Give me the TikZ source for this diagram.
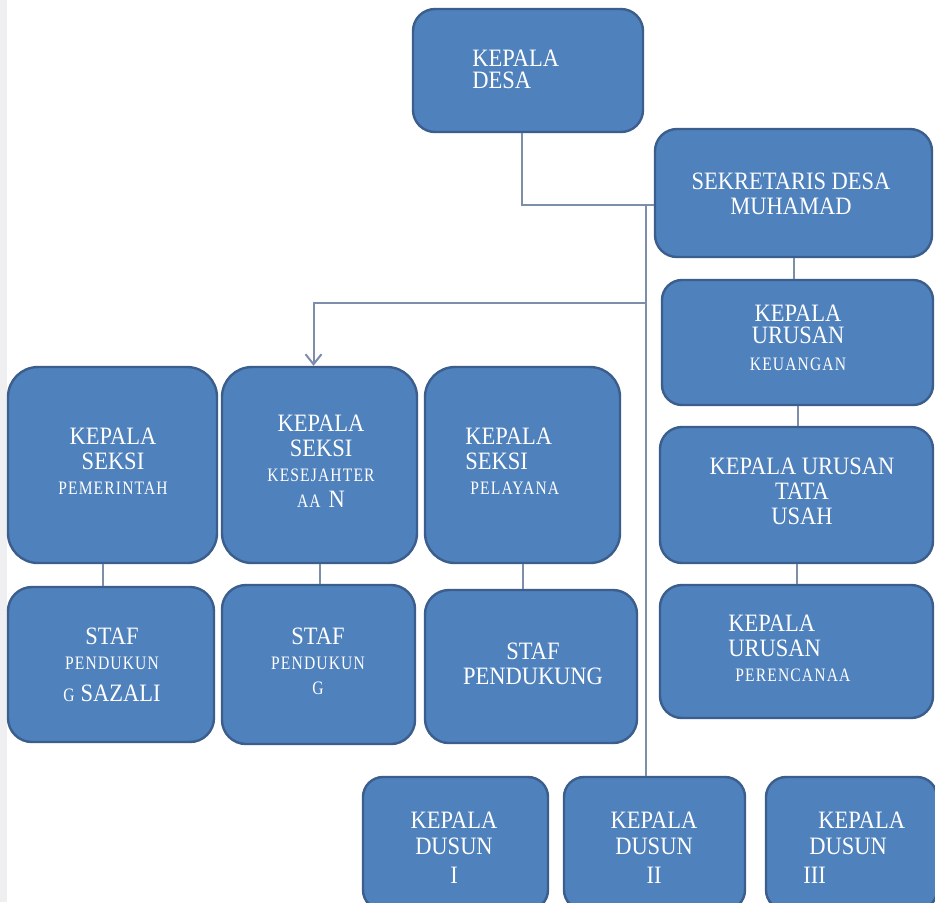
\documentclass[tikz,border=0pt]{standalone}
\usepackage{fontspec}
\setmainfont{Liberation Serif}[FakeStretch=0.9]
\newfontfamily\condfam{Liberation Serif}[FakeStretch=0.82,LetterSpace=6]
\newcommand{\cond}[1]{{\condfam\fontsize{9.5}{12.5}\selectfont #1}}
\usetikzlibrary{arrows.meta, fit}
\definecolor{boxfill}{HTML}{4F81BD}
\definecolor{boxline}{HTML}{3B5E8C}
\definecolor{connline}{HTML}{7D8EA8}
\definecolor{sidebar}{HTML}{EFEFF2}

\begin{document}
\begin{tikzpicture}[x=0.5pt, y=-0.5pt,
    box/.style={draw=boxline, fill=boxfill, line width=1.2pt, inner sep=0pt, rounded corners=11pt}, % blue rounded box
    txt/.style={text=white, inner sep=0pt, align=center, font=\fontsize{12.5}{12.5}\selectfont}, % white label
    conn/.style={draw=connline, line width=1pt} % connector lines
  ]
  \clip (0,0) rectangle (935,902);
  \fill[white] (0,0) rectangle (935,902);
  \fill[sidebar] (0,0) rectangle (7,902);

  % top: kepala desa and sekretaris
  \node[box, fit={(413,9) (643,132)}] (kd) {};
  \node[box, fit={(655,129) (932,257)}] (sd) {};
  % urusan column
  \node[box, rounded corners=10pt, fit={(662,280) (933,405)}] (keu) {};
  \node[box, fit={(660,427) (933,563)}] (tu) {};
  \node[box, fit={(660,585) (933,718)}] (pr) {};
  % seksi row
  \node[box, rounded corners=15pt, fit={(8,367) (217,563)}] (ks1) {};
  \node[box, rounded corners=15pt, fit={(222,367) (417,563)}] (ks2) {};
  \node[box, rounded corners=15pt, fit={(425,367) (620,563)}] (ks3) {};
  % staf row
  \node[box, rounded corners=12pt, fit={(8,587) (214,742)}] (st1) {};
  \node[box, rounded corners=12pt, fit={(222,585) (415,744)}] (st2) {};
  \node[box, rounded corners=12pt, fit={(425,590) (637,743)}] (st3) {};
  % dusun row
  \node[box, rounded corners=10pt, fit={(363,777) (548,910)}] (kds1) {};
  \node[box, rounded corners=10pt, fit={(564,777) (745,910)}] (kds2) {};
  \node[box, rounded corners=10pt, fit={(766,777) (937,910)}] (kds3) {};

  % labels
  \node[txt, align=left, anchor=north west] (kdt) at (472,50) {KEPALA\\[-1.5pt]DESA};
  \node[txt, anchor=north] (sdt) at (791,173) {SEKRETARIS DESA\\MUHAMAD};
  \node[txt, anchor=north] (keut) at (798,305) {KEPALA\\[-1.5pt]URUSAN\\[1pt]\cond{KEUANGAN}};
  \node[txt, anchor=north] (tut) at (802,458) {KEPALA URUSAN\\TATA\\USAH};
  \node[txt, align=left, anchor=north west] (prt) at (728,615) {KEPALA\\URUSAN\\\hspace*{3.5pt}\cond{PERENCANAA}};
  \node[txt, anchor=north] (ks1t) at (113,428) {KEPALA\\SEKSI\\\cond{PEMERINTAH}};
  \node[txt, anchor=north] (ks2t) at (321,415) {KEPALA\\SEKSI\\\cond{KESEJAHTER}\\[0.5pt]\cond{AA}\hspace{4pt}N};
  \node[txt, align=left, anchor=north west] (ks3t) at (465,428) {KEPALA\\SEKSI\\\hspace*{2.5pt}\cond{PELAYANA}};
  \node[txt, anchor=north] (st1t) at (112,628) {STAF\\\cond{PENDUKUN}\\[3.5pt]\cond{G}\hspace{3pt}SAZALI};
  \node[txt, anchor=north] (st2t) at (318,628) {STAF\\\cond{PENDUKUN}\\\cond{G}};
  \node[txt, anchor=north] (st3t) at (533,643) {STAF\\PENDUKUNG};
  \node[txt, anchor=north] (kds1t) at (454,812) {KEPALA\\[0.5pt]DUSUN\\[2pt]I};
  \node[txt, anchor=north] (kds2t) at (654,812) {KEPALA\\[0.5pt]DUSUN\\[2pt]II};
  \node[txt, align=left, anchor=north west] (kds3t) at (803,812) {\hspace*{7.5pt}KEPALA\\[0.5pt]\hspace*{3pt}DUSUN\\[2pt]III};

  % connectors
  \coordinate (trunk) at (646,205);
  \coordinate (branch) at (646,303);
  \draw[conn] ([xshift=-3pt]kd.south) |- ([yshift=-6pt]sd.west);
  \draw[conn] (trunk) -- (trunk |- kds2.north);
  \draw[conn, -{Straight Barb[length=5pt,width=8pt]}] (branch) -| ([xshift=-3pt]ks2.north);
  \draw[conn] (sd.south) -- (sd.south |- keu.north);
  \draw[conn] (keu.south) -- (keu.south |- tu.north);
  \draw[conn] (tu.south) -- (tu.south |- pr.north);
  \draw[conn] ([xshift=-5pt]ks1.south) -- ([xshift=-5pt]ks1.south |- st1.north);
  \draw[conn] (ks2.south) -- (ks2.south |- st2.north);
  \draw[conn] (ks3.south) -- (ks3.south |- st3.north);
\end{tikzpicture}
\end{document}
